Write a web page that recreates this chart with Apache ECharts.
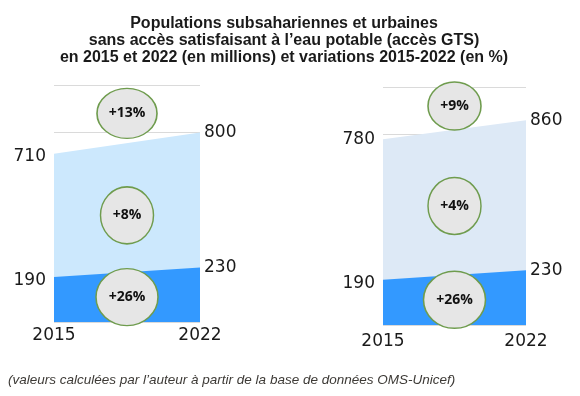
<!DOCTYPE html>
<html>
<head>
<meta charset="utf-8">
<script src="https://cdn.jsdelivr.net/npm/echarts@6/dist/echarts.min.js"></script>
<style>
  html, body { margin: 0; padding: 0; background: #fff; }
  #main { width: 580px; height: 396px; }
</style>
</head>
<body>
<div id="main"></div>
<script>
var years = [2015, 2022];
var leftTotal = [710, 800];
var leftUrban = [190, 230];
var rightTotal = [780, 860];
var rightUrban = [190, 230];
var leftVariations = ['+13%', '+8%', '+26%'];
var rightVariations = ['+9%', '+4%', '+26%'];

var DARK = '#3399ff';
var ELLIPSE = 'path://M0,50 A50,50 0 1,1 100,50 A50,50 0 1,1 0,50 Z';

function pts(values, gi, dy0) {
    // label on the left for 2015, on the right for 2022
    return values.map(function (v, i) {
        return {
            value: [years[i], v],
            label: {
                position: i == 0 ? 'left' : 'right',
                distance: i == 0 ? 8 : 4,
                offset: [0, i == 0 ? dy0 : 0]
            }
        };
    });
}

function area(values, gi, color, dy0) {
    return {
        type: 'line',
        xAxisIndex: gi,
        yAxisIndex: gi,
        data: pts(values, gi, dy0),
        symbol: 'circle',
        symbolSize: 0,
        showSymbol: true,
        silent: true,
        itemStyle: { color: color },
        lineStyle: { width: 0, color: color },
        areaStyle: { color: color, opacity: 1 },
        label: {
            show: true,
            color: '#1a1a1a',
            fontFamily: 'DejaVu Sans',
            fontSize: 17,
            formatter: function (p) { return p.value[1]; }
        }
    };
}

function bubbles(labels, ys, sizes, gi) {
    var d = [];
    for (var i = 0; i < labels.length; i++) {
        d.push({ value: [2018.5, ys[i]], name: labels[i], symbolSize: sizes[i] });
    }
    return {
        type: 'scatter',
        xAxisIndex: gi,
        yAxisIndex: gi,
        symbol: ELLIPSE,
        data: d,
        z: 5,
        silent: true,
        itemStyle: { color: '#e6e6e6', borderColor: '#6f9c4e', borderWidth: 1.5, opacity: 1 },
        label: {
            show: true,
            position: 'inside',
            formatter: '{b}',
            color: '#111',
            fontFamily: 'Open Sans',
            fontWeight: 'bold',
            fontSize: 14
        }
    };
}

function xAx(gi, margin) {
    return {
        type: 'value',
        gridIndex: gi,
        min: 2015,
        max: 2022,
        axisLine: { show: false },
        axisTick: { show: false },
        splitLine: { show: false },
        axisLabel: {
            customValues: years,
            margin: margin,
            color: '#1a1a1a',
            fontFamily: 'DejaVu Sans',
            fontSize: 17,
            formatter: function (v) { return v; }
        }
    };
}

function yAx(gi) {
    return {
        type: 'value',
        gridIndex: gi,
        min: 0,
        max: 1000,
        interval: 200,
        axisLine: { show: false },
        axisTick: { show: false },
        axisLabel: { show: false },
        splitLine: { lineStyle: { color: '#dadada', width: 1 } }
    };
}

var dom = document.getElementById('main');
var myChart = echarts.init(dom);

var option = {
    backgroundColor: '#fff',
    animation: false,
    title: [
        {
            text: 'Populations subsahariennes et urbaines\nsans accès satisfaisant à l\u2019eau potable (accès GTS)\nen 2015 et 2022 (en millions) et variations 2015-2022 (en %)',
            left: 279,
            top: 10,
            textAlign: 'center',
            textStyle: {
                fontFamily: 'Liberation Sans',
                fontWeight: 'bold',
                fontSize: 16,
                lineHeight: 17,
                color: '#1a1a1a',
                align: 'center'
            }
        },
        {
            text: '(valeurs calculées par l\u2019auteur à partir de la base de données OMS-Unicef)',
            left: 3,
            top: 368,
            textStyle: {
                fontFamily: 'Liberation Sans',
                fontStyle: 'italic',
                fontWeight: 'normal',
                fontSize: 13.5,
                color: '#3d3a36'
            }
        }
    ],
    grid: [
        { left: 54, width: 146, top: 85, bottom: 74 },
        { left: 383, width: 143, top: 87, bottom: 71 }
    ],
    xAxis: [xAx(0, 5), xAx(1, 8)],
    yAxis: [yAx(0), yAx(1)],
    series: [
        area(leftTotal, 0, '#cce8fd', 3),
        area(leftUrban, 0, DARK, 4),
        bubbles(leftVariations, [880, 450, 105], [[60, 50], [53, 57], [62, 57]], 0),
        area(rightTotal, 1, '#dde9f6', 0),
        area(rightUrban, 1, DARK, 4),
        bubbles(rightVariations, [920, 500, 106], [[53, 48], [53, 57], [62, 57]], 1)
    ]
};

if (option && typeof option === 'object') {
    myChart.setOption(option);
}
</script>
</body>
</html>
